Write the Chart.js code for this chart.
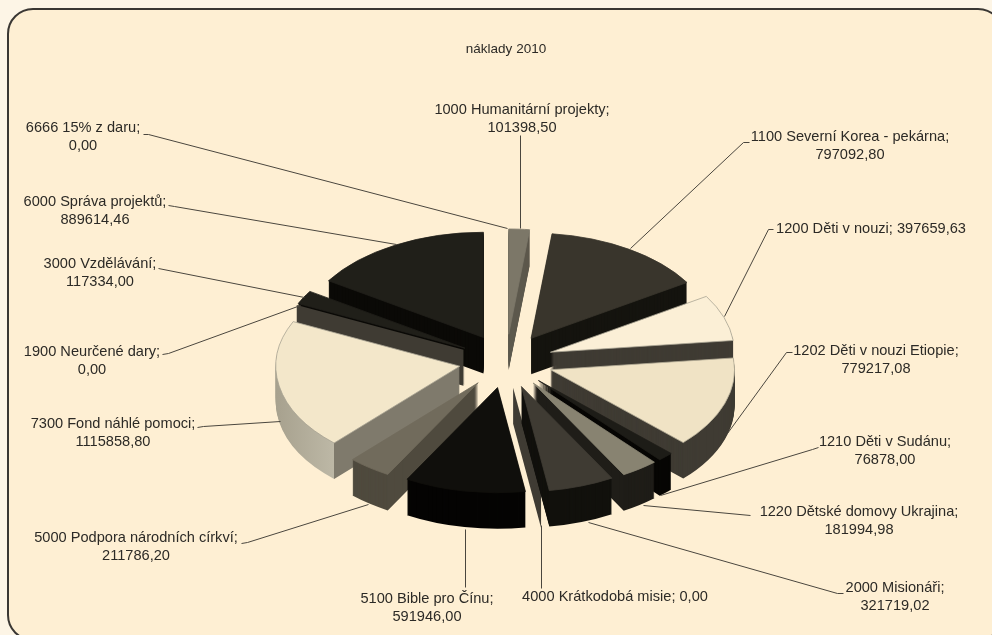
<!DOCTYPE html>
<html>
<head>
<meta charset="utf-8">
<title>náklady 2010</title>
<script src="https://cdn.jsdelivr.net/npm/chart.js@4"></script>
<style>
  html, body { margin: 0; padding: 0; background: #fdf5e6; overflow: hidden; }
  #panel { position: absolute; left: 7px; top: 8px; width: 993px; height: 629px; background: #feefd3; border: 2px solid #3a3733; border-radius: 26px; }
  #pie { position: absolute; left: 0; top: 0; }
</style>
</head>
<body>
<div id="panel"></div>
<canvas id="pie" width="992" height="635"></canvas>
<script>
const categories = ["1000 Humanitární projekty;", "1100 Severní Korea - pekárna;", "1200 Děti v nouzi;", "1202 Děti v nouzi Etiopie;", "1210 Děti v Sudánu;", "1220 Dětské domovy Ukrajina;", "2000 Misionáři;", "4000 Krátkodobá misie;", "5100 Bible pro Čínu;", "5000 Podpora národních církví;", "7300 Fond náhlé pomoci;", "1900 Neurčené dary;", "3000 Vzdělávání;", "6000 Správa projektů;", "6666 15% z daru;"]
const values = [101398.50, 797092.80, 397659.63, 779217.08, 76878.00, 181994.98, 321719.02, 0, 591946.00, 211786.20, 1115858.80, 0, 117334.00, 889614.46, 0]
const topColors = ["#7c7768", "#39352c", "#fbefd6", "#f0e3c5", "#1d1c17", "#888371", "#3f3b33", "#3f3b33", "#100f0c", "#716b5c", "#f3e7ca", "#3f3b33", "#201f19", "#201f19", "#e8dcc0"]
const wallColors = ["#5e5a4e", "#15140f", "#3f3b33", "#3f3b33", "#070604", "#1f1d18", "#12110d", "#3f3b33", "#050403", "#4f4a3e", "#7f7a6c", "#3f3b33", "#0b0a07", "#0b0a07", "#e8dcc0"]
const edgeColors = ["#7c7768", "#39352c", "#a8a392", "#b5ad98", "#1d1c17", "#888371", "#3f3b33", "#3f3b33", "#100f0c", "#716b5c", "#a8a392", "#3f3b33", "#201f19", "#201f19", "#e8dcc0"]
const fondIndex = 10
const fondCurve = ["#a7a18e", "#bdb8a6"]

// label placement: text centre, first line middle, leader line
const labelLayout = [
  { x: 522, y: 110, line: [[520, 135], [520, 228]] },
  { x: 850, y: 137, line: [[749, 142], [743, 142], [630, 248]] },
  { x: 871, y: 229, oneLine: true, line: [[773, 229], [768, 229], [724, 316]] },
  { x: 876, y: 351, line: [[792, 352], [786, 352], [727, 433]] },
  { x: 885, y: 442, line: [[818, 447], [812, 449], [660, 495]] },
  { x: 859, y: 512, line: [[750, 515], [643, 505]] },
  { x: 895, y: 588, line: [[843, 593], [837, 593], [588, 522]] },
  { x: 615, y: 597, oneLine: true, line: [[541, 525], [541, 588]] },
  { x: 427, y: 599, line: [[465, 529], [465, 587]] },
  { x: 136, y: 538, line: [[241, 543], [247, 542], [368, 504]] },
  { x: 113, y: 424, line: [[197, 427], [203, 426], [280, 421]] },
  { x: 92, y: 352, line: [[162, 354], [168, 353], [300, 305]] },
  { x: 100, y: 264, line: [[158, 268], [304, 297]] },
  { x: 95, y: 202, line: [[168, 205], [174, 206], [396, 244]] },
  { x: 83, y: 128, line: [[143, 134], [148, 134], [507, 228]] }
]

const fontName = '"Liberation Sans", Arial, sans-serif'
const squash = 0.572
const depth = 36
const explode = 47

function wallFill(ctx, arc, i) {
  if (i !== fondIndex) return wallColors[i]
  // outer rim of the big slice is lighter than its straight side
  const left = arc.x - arc.outerRadius
  const corner = arc.x + arc.outerRadius * Math.cos(arc.startAngle)
  const g = ctx.createLinearGradient(left, 0, arc.x, 0)
  const t = (corner - left) / (arc.x - left)
  g.addColorStop(0, fondCurve[0])
  g.addColorStop(t, fondCurve[1])
  g.addColorStop(t, wallColors[i])
  g.addColorStop(1, wallColors[i])
  return g
}

const pie3d = {
  id: "pie3d",
  beforeDatasetsDraw(chart) {
    const ctx = chart.ctx
    const arcs = chart.getDatasetMeta(0).data
    const mid = (a) => (a.startAngle + a.endAngle) / 2
    // back to front; an empty slice goes just behind the one before it
    const key = (i) => {
      if (arcs[i].circumference === 0 && i > 0) return Math.sin(mid(arcs[i - 1])) - 0.001
      return Math.sin(mid(arcs[i]))
    }
    const order = arcs.map((a, i) => i).sort((p, q) => key(p) - key(q))

    order.forEach((i) => {
      const arc = arcs[i]
      const m = mid(arc)
      const ex = Math.cos(m) * explode
      const ey = Math.sin(m) * explode
      const place = (d) => {
        ctx.translate(0, d)
        ctx.translate(arc.x, arc.y)
        ctx.scale(1, squash)
        ctx.translate(-arc.x + ex, -arc.y + ey)
      }

      if (arc.circumference === 0) {
        // empty category: only its straight wall shows
        const ox = arc.x + Math.cos(arc.startAngle) * arc.outerRadius
        const oy = arc.y + Math.sin(arc.startAngle) * arc.outerRadius
        const corners = [[arc.x, arc.y, 0], [ox, oy, 0], [ox, oy, depth], [arc.x, arc.y, depth]]
        ctx.beginPath()
        corners.forEach((c) => {
          const px = c[0] + ex
          const py = arc.y + (c[1] + ey - arc.y) * squash + c[2]
          ctx.lineTo(px, py)
        })
        ctx.closePath()
        ctx.fillStyle = wallColors[i]
        ctx.fill()
        return
      }

      const own = arc.options
      for (let d = depth; d > 0; d--) {
        ctx.save()
        place(d)
        arc.options = Object.assign({}, own, { backgroundColor: wallFill(ctx, arc, i), borderWidth: 0 })
        arc.draw(ctx)
        ctx.restore()
      }
      ctx.save()
      place(0)
      arc.options = own
      arc.draw(ctx)
      ctx.restore()
    })
    return false
  },
  afterDraw(chart) {
    const ctx = chart.ctx
    ctx.save()
    ctx.strokeStyle = "#4a463e"
    ctx.lineWidth = 1
    labelLayout.forEach((l) => {
      ctx.beginPath()
      l.line.forEach((p, k) => (k ? ctx.lineTo(p[0] + 0.5, p[1] + 0.5) : ctx.moveTo(p[0] + 0.5, p[1] + 0.5)))
      ctx.stroke()
    })
    ctx.fillStyle = "#2c2a26"
    ctx.font = "14.6px " + fontName
    ctx.textAlign = "center"
    ctx.textBaseline = "middle"
    categories.forEach((name, i) => {
      const l = labelLayout[i]
      const val = values[i].toFixed(2).replace(".", ",")
      if (l.oneLine) {
        ctx.fillText(name + " " + val, l.x, l.y)
      } else {
        ctx.fillText(name, l.x, l.y)
        ctx.fillText(val, l.x, l.y + 17.5)
      }
    })
    ctx.restore()
  }
}

new Chart(document.getElementById("pie"), {
  type: "pie",
  data: {
    labels: categories,
    datasets: [{
      data: values,
      backgroundColor: topColors,
      borderColor: edgeColors,
      borderWidth: 1,
      radius: 184
    }]
  },
  options: {
    responsive: false,
    animation: false,
    layout: { padding: { left: 20 } },
    plugins: {
      legend: { display: false },
      tooltip: { enabled: false },
      title: {
        display: true,
        text: "náklady 2010",
        color: "#2c2a26",
        font: { family: fontName, size: 13.5, weight: "normal", lineHeight: 1.2 },
        padding: { top: 41, bottom: 30 }
      }
    }
  },
  plugins: [pie3d]
})
</script>
</body>
</html>
